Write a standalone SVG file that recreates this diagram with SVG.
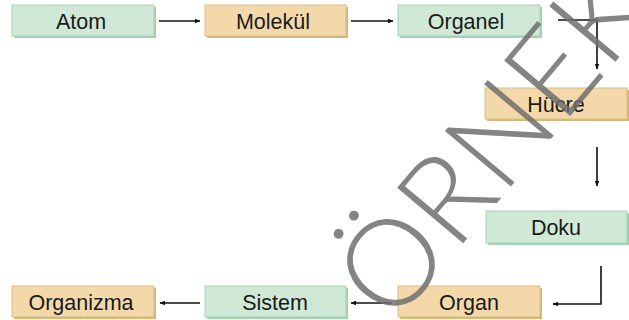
<svg xmlns="http://www.w3.org/2000/svg" width="629" height="320" viewBox="0 0 629 320">
<defs>
<style>
.g{fill:#cfe9d6;stroke:#a9d3b6;stroke-width:1}
.t{fill:#f3d9a9;stroke:#dcbb83;stroke-width:1}
.sg{fill:#a5cfb1}
.st{fill:#d9b679}
.lbl{font-family:"Liberation Sans",Arial,sans-serif;font-size:21.5px;fill:#1a1a1a;text-anchor:middle}
.c{fill:none;stroke:#111;stroke-width:1.6}
.wm{font-family:Lato,"Open Sans",sans-serif;font-weight:300;font-size:122px;fill:#6e6e6e;fill-opacity:0.85}
</style>
<marker id="ah" viewBox="0 0 10 10" refX="9" refY="5" markerWidth="6" markerHeight="6" orient="auto" markerUnits="userSpaceOnUse">
<path d="M0,1 L10,5 L0,9 Z" fill="#111"/>
</marker>
</defs>
<rect width="629" height="320" fill="#fff"/>
<g id="atom"><rect class="sg" x="14" y="7" width="142" height="31"/><rect class="g" x="12" y="5" width="142" height="31"/><text class="lbl" x="81" y="28.5">Atom</text></g>
<g id="molekul"><rect class="st" x="207" y="7" width="141" height="31"/><rect class="t" x="205" y="5" width="141" height="31"/><text class="lbl" x="273" y="28.5">Molekül</text></g>
<g id="organel"><rect class="sg" x="400" y="7" width="142" height="31"/><rect class="g" x="398" y="5" width="142" height="31"/><text class="lbl" x="466" y="28.5">Organel</text></g>
<g id="hucre"><rect class="st" x="487" y="90" width="142" height="31"/><rect class="t" x="485" y="88" width="142" height="31"/><text class="lbl" x="556" y="111.5">Hücre</text></g>
<g id="doku"><rect class="sg" x="488" y="213" width="141" height="32"/><rect class="g" x="486" y="211" width="141" height="32"/><text class="lbl" x="556" y="235">Doku</text></g>
<g id="organ"><rect class="st" x="400" y="288" width="142" height="31"/><rect class="t" x="398" y="286" width="142" height="31"/><text class="lbl" x="469" y="309.5">Organ</text></g>
<g id="sistem"><rect class="sg" x="207" y="288" width="141" height="31"/><rect class="g" x="205" y="286" width="141" height="31"/><text class="lbl" x="275" y="309.5">Sistem</text></g>
<g id="organizma"><rect class="st" x="14" y="288" width="142" height="31"/><rect class="t" x="12" y="286" width="142" height="31"/><text class="lbl" x="81" y="309.5">Organizma</text></g>
<g id="connectors">
<path class="c" d="M159,21 H200" marker-end="url(#ah)"/>
<path class="c" d="M351,21 H393" marker-end="url(#ah)"/>
<path class="c" d="M558,20 H597 V69" marker-end="url(#ah)"/>
<path class="c" d="M597,147 V186" marker-end="url(#ah)"/>
<path class="c" d="M601,266 V304 H553" marker-end="url(#ah)"/>
<path class="c" d="M392,303 H351" marker-end="url(#ah)"/>
<path class="c" d="M200,303 H160" marker-end="url(#ah)"/>
</g>
<text class="wm" x="393" y="327" transform="rotate(-50 393 327)">ÖRNEK</text>
</svg>
